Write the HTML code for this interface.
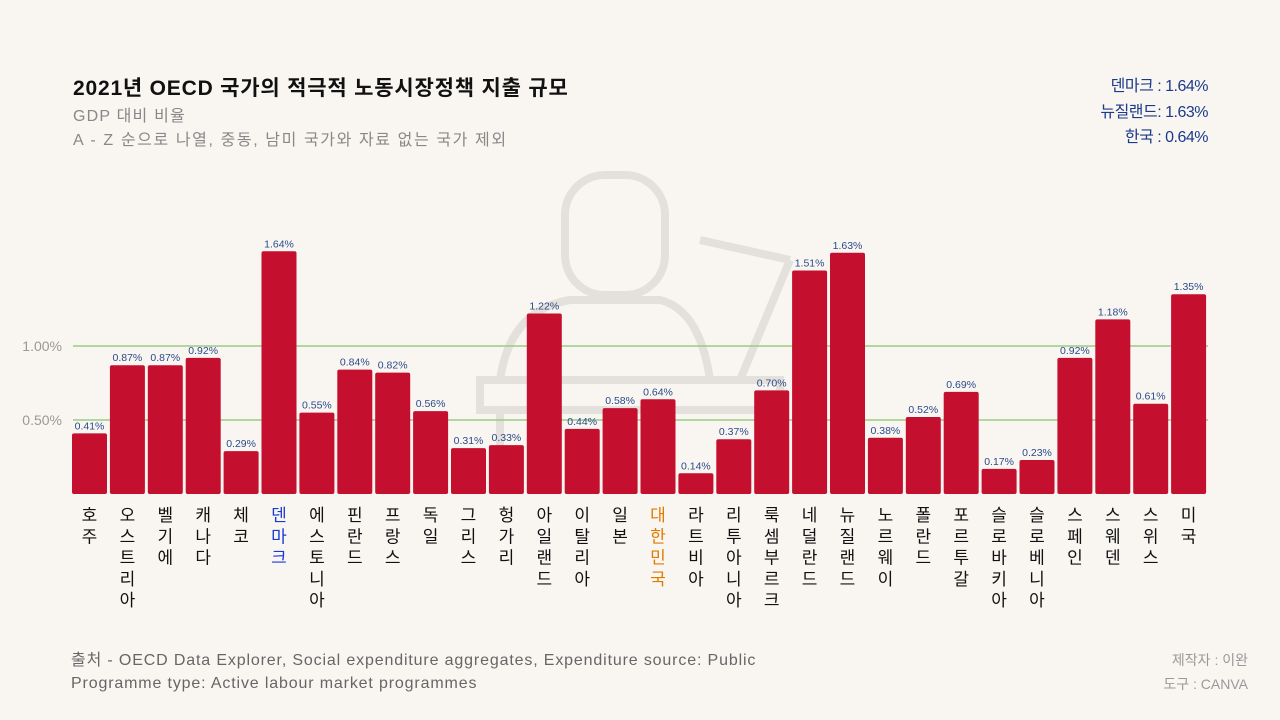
<!DOCTYPE html>
<html><head><meta charset="utf-8">
<style>
body{margin:0;background:#f9f6f2;font-family:"Liberation Sans","Noto Sans CJK KR",sans-serif;}
#wrap{position:relative;width:1280px;height:720px;overflow:hidden;background:#f9f6f2;}
.t{position:absolute;white-space:nowrap;}
</style></head><body>
<div id="wrap">
<div class="t" style="left:73px;top:72px;font-size:21px;font-weight:bold;color:#111;letter-spacing:0.8px;">2021년 OECD 국가의 적극적 노동시장정책 지출 규모</div>
<div class="t" style="left:73px;top:102px;font-size:16px;color:#888;letter-spacing:1.2px;">GDP 대비 비율</div>
<div class="t" style="left:73px;top:126px;font-size:16px;color:#888;letter-spacing:1.6px;">A - Z 순으로 나열, 중동, 남미 국가와 자료 없는 국가 제외</div>
<div class="t" style="right:72px;top:74px;font-size:16px;color:#1a3a8a;text-align:right;line-height:25.5px;letter-spacing:-0.5px;">덴마크 : 1.64%<br>뉴질랜드: 1.63%<br>한국 : 0.64%</div>
<div class="t" style="left:71px;top:649px;font-size:16px;color:#666;line-height:23px;letter-spacing:0.85px;">출처 - OECD Data Explorer, Social expenditure aggregates, Expenditure source: Public<br>Programme type: Active labour market programmes</div>
<div class="t" style="right:32px;top:648px;font-size:14px;color:#999;text-align:right;line-height:24px;">제작자 : 이완<br>도구 : CANVA</div>
<svg id="chart" width="1280" height="720" style="position:absolute;left:0;top:0">
<g fill="none" stroke="#e4e1dc" stroke-width="8">
<rect x="565" y="175" width="100" height="120" rx="40"/>
<path d="M500 380 Q510 310 570 300 L660 300 Q700 310 710 380"/>
<rect x="480" y="380" width="300" height="30"/>
<line x1="500" y1="410" x2="500" y2="494"/><line x1="760" y1="410" x2="760" y2="494"/>
<line x1="740" y1="380" x2="790" y2="260"/><line x1="790" y1="260" x2="700" y2="240"/>
</g>
<g id="grid"></g><g id="bars"></g><g id="labels"></g>
</svg>
</div>
<script>
const countries=["호주","오스트리아","벨기에","캐나다","체코","덴마크","에스토니아","핀란드","프랑스","독일","그리스","헝가리","아일랜드","이탈리아","일본","대한민국","라트비아","리투아니아","룩셈부르크","네덜란드","뉴질랜드","노르웨이","폴란드","포르투갈","슬로바키아","슬로베니아","스페인","스웨덴","스위스","미국"];
const values=[0.41,0.87,0.87,0.92,0.29,1.64,0.55,0.84,0.82,0.56,0.31,0.33,1.22,0.44,0.58,0.64,0.14,0.37,0.70,1.51,1.63,0.38,0.52,0.69,0.17,0.23,0.92,1.18,0.61,1.35];
const yTicks=[0.5,1.0];
const yTickLabels=["0.50%","1.00%"];
const NS="http://www.w3.org/2000/svg";
const y0=494, pxPer=148, x0=72, pitch=37.9, bw=35;
const y=v=>y0-v*pxPer, x=i=>x0+i*pitch;
function mk(t,a,p){const e=document.createElementNS(NS,t);for(const k in a)e.setAttribute(k,a[k]);p.appendChild(e);return e;}
const grid=document.getElementById('grid'),bars=document.getElementById('bars'),labels=document.getElementById('labels');
yTicks.forEach((v,i)=>{
 const l=mk('line',{x1:73,x2:1208,y1:y(v),y2:y(v),stroke:'#9ccc84','stroke-width':1.5},grid);
 
 
 const t=mk('text',{x:62,y:y(v)+5,'text-anchor':'end','font-size':14,fill:'#999','font-family':'Liberation Sans, sans-serif'},grid);
 t.textContent=yTickLabels[i];
 
 
});
values.forEach((v,i)=>{
 const r=mk('rect',{x:x(i),y:y(v),width:bw,height:v*pxPer,rx:2,fill:'#c50f2e'},bars);
 
 
 const t=mk('text',{x:x(i)+bw/2,y:y(v)-4,'text-anchor':'middle','font-size':10.5,fill:'#2a4a8a','font-family':'Liberation Sans, sans-serif'},bars);
 t.textContent=v.toFixed(2)+'%';
 
 
 const col=countries[i]==='덴마크'?'#1a3ad8':countries[i]==='대한민국'?'#e07b00':'#111';
 const g=mk('text',{'text-anchor':'middle','font-size':17,fill:col,'font-family':'Noto Sans CJK KR, sans-serif'},labels);
 
 
 [...countries[i]].forEach((c,j)=>{const s=mk('tspan',{x:x(i)+bw/2,y:521+j*21.3},g);s.textContent=c;});
});
</script>
</body></html>
